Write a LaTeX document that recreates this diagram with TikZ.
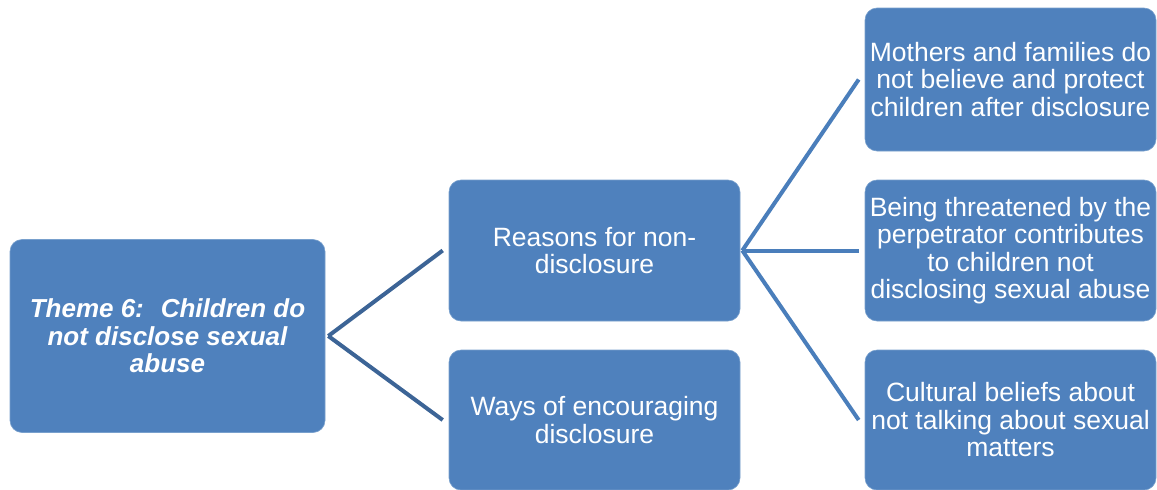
\documentclass[tikz,border=0pt]{standalone}
\usepackage{fontspec}
\setmainfont{Liberation Sans}
\tikzset{>=latex}
\definecolor{boxColour}{RGB}{79,129,189}
\definecolor{boxEdge}{RGB}{120,160,205}
\definecolor{leftLinkColour}{RGB}{60,100,150}
\definecolor{rightLinkColour}{RGB}{74,126,187}
\tikzset{
	topicbox/.style={fill=boxColour, draw=boxEdge, line width=0.6pt, rounded corners=12pt,
		minimum width=291pt, minimum height=141pt, inner sep=0pt, text=white, align=center,
		font=\fontsize{26.5}{27.5}\selectfont},
	leftlink/.style={draw=leftLinkColour, line width=4pt},
	rightlink/.style={draw=rightLinkColour, line width=4pt}
}

\begin{document}
\begin{tikzpicture}[x=1pt, y=-1pt]
		\useasboundingbox (0, 0) rectangle (1157, 490);

		% the theme
		\node[topicbox, minimum width=315pt, minimum height=193pt,
			font=\fontsize{26}{27.5}\selectfont\bfseries\itshape] (theme) at (167.5, 336)
			{Theme 6:~ Children do\\not disclose sexual\\abuse};

		% the two sub-themes
		\node[topicbox] (reasons) at (594.5, 250.5) {Reasons for non-\\disclosure};
		\node[topicbox, minimum height=140pt] (ways) at (594.5, 420) {Ways of encouraging\\disclosure};

		% the three categories
		\node[topicbox, minimum height=143pt] (mothers) at (1010.5, 79.5)
			{Mothers and families do\\not believe and protect\\children after disclosure};
		\node[topicbox] (threat) at (1010.5, 250.5)
			{Being threatened by the\\perpetrator contributes\\to children not\\disclosing sexual abuse};
		\node[topicbox, minimum height=140pt] (culture) at (1010.5, 420)
			{Cultural beliefs about\\not talking about sexual\\matters};

		% links
		\draw[leftlink] ([xshift=3pt]theme.east) -- ([xshift=-6pt]reasons.west);
		\draw[leftlink] ([xshift=3pt]theme.east) -- ([xshift=-6pt]ways.west);
		\draw[rightlink] ([xshift=2pt]reasons.east) -- ([xshift=-6pt]mothers.west);
		\draw[rightlink] ([xshift=2pt]reasons.east) -- ([xshift=-6pt]threat.west);
		\draw[rightlink] ([xshift=2pt]reasons.east) -- ([xshift=-6pt]culture.west);
	\end{tikzpicture}
\end{document}
